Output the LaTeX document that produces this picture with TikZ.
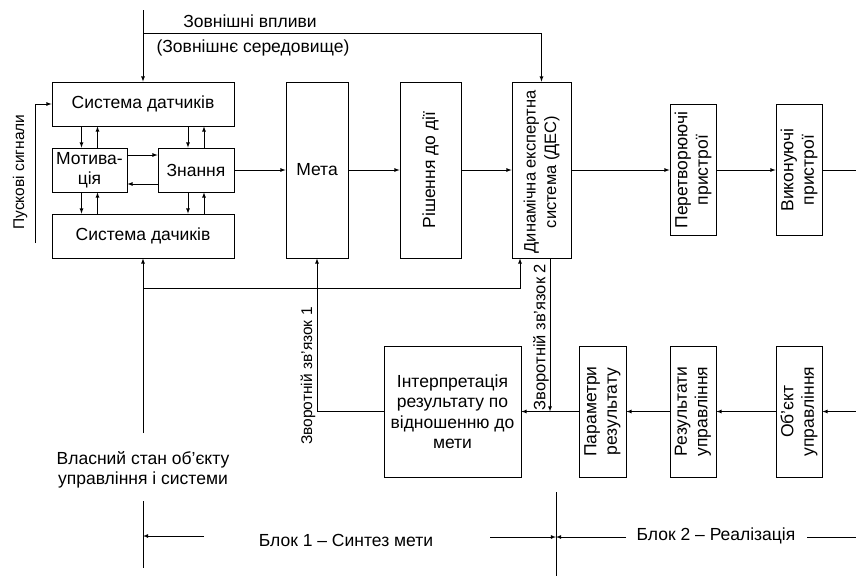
\documentclass[tikz,border=0pt]{standalone}
\usepackage{fontspec}
\setmainfont{Liberation Sans}
\usetikzlibrary{calc}

\tikzset{
  box/.style 2 args={draw,minimum width=#1pt,minimum height=#2pt,inner sep=1pt,align=center},
  vtext/.style={rotate=90,align=center,inner sep=1pt},
  small/.style={font=\fontsize{#1}{20.5}\selectfont}
}

\begin{document}
\begin{tikzpicture}[x=1pt,y=-1pt,>=latex,line width=0.8pt,
  every node/.style={font=\fontsize{17.5}{20.5}\selectfont}]
  \useasboundingbox (0,0) rectangle (856,576);

  % Block 1 - left part
  \node[box={182}{44}] (sens) at (143,104) {Система датчиків};
  \node[box={75}{44}] (motiv) at (89.5,170) {Мотива-\\ція};
  \node[box={76}{44}] (know) at (196,170) {Знання};
  \node[box={182}{44}] (sens2) at (143,236) {Система дачиків};

  % Goal, decision, DES
  \node[box={62}{176}] (meta) at (317,170) {Мета};
  \node[box={61}{176}] (dec) at (430.5,170) {};
  \node[vtext] at (dec) {Рішення до дії};
  \node[box={59}{176}] (des) at (541.5,170) {};
  \node[vtext,small=16.5] at ([yshift=-2pt]des.center) {Динамічна експертна\\система (ДЕС)};

  % Block 2 - upper row
  \node[box={46}{131}] (conv) at (693,170) {};
  \node[vtext] at (conv) {Перетворюючі\\пристрої};
  \node[box={46}{131}] (exec) at (799,170) {};
  \node[vtext] at (exec) {Виконуючі\\пристрої};

  % lower row
  \node[box={137}{131}] (interp) at (452.5,411.5) {Інтерпретація\\результату по\\відношенню до\\мети};
  \node[box={47}{131}] (param) at (602.5,411.5) {};
  \node[vtext] at (param) {Параметри\\результату};
  \node[box={46}{131}] (res) at (693,411.5) {};
  \node[vtext] at (res) {Результати\\управління};
  \node[box={46}{131}] (obj) at (799,411.5) {};
  \node[vtext] at (obj) {Об’єкт\\управління};

  % external influences
  \coordinate (extsrc) at (143,10);
  \coordinate (ext) at (des.north |- 0,33);
  \draw[->] (extsrc) -- (sens.north);
  \draw[->] (sens.north |- ext) -- (ext) -- (des.north);
  \node (extl) at (250,21) {Зовнішні впливи};
  \node (envl) at (253,48) {(Зовнішнє середовище)};

  % start signals
  \coordinate (pusk) at (35,243);
  \draw[->] (pusk) |- (sens.west);
  \node[vtext,small=15.5] (puskl) at (20,172) {Пускові сигнали};

  % inner links
  \foreach \n in {motiv,know}{
    \draw[->] ([xshift=-8pt]\n.north |- sens.south) -- ([xshift=-8pt]\n.north);
    \draw[->] ([xshift=8pt]\n.north) -- ([xshift=8pt]\n.north |- sens.south);
    \draw[->] ([xshift=-8pt]\n.south) -- ([xshift=-8pt]\n.south |- sens2.north);
    \draw[->] ([xshift=8pt]\n.south |- sens2.north) -- ([xshift=8pt]\n.south);
  }
  \draw[->] ([yshift=15pt]motiv.east) -- ([yshift=15pt]know.west);
  \draw[->] ([yshift=-14pt]know.west) -- ([yshift=-14pt]motiv.east);

  % main row
  \coordinate (outr) at (856,170);
  \draw[->] (know.east) -- (meta.west);
  \draw[->] (meta.east) -- (dec.west);
  \draw[->] (dec.east) -- (des.west);
  \draw[->] (des.east) -- (conv.west);
  \draw[->] (conv.east) -- (exec.west);
  \draw (exec.east) -- (outr);

  % own state and feedback
  \coordinate (own) at (143,433);
  \coordinate (fb) at (143,288);
  \draw[->] (own) -- (sens2.south);
  \draw[->] (fb) -- ([xshift=-21.5pt]des.south |- fb) -- ([xshift=-21.5pt]des.south);
  \node[align=center] (ownl) at (143,470) {Власний стан об’єкту\\управління і системи};

  \draw[->] (interp.west) -| (meta.south);
  \node[vtext,small=15.5] (fb1l) at (308,376) {Зворотній зв’язок 1};
  \draw[->] ([xshift=8.5pt]des.south) -- ([xshift=8.5pt]des.south |- interp.east);
  \node[vtext,small=16.5] (fb2l) at (541,337) {Зворотній зв’язок 2};

  % lower row links
  \coordinate (inr) at (856,411.5);
  \draw[->] (param.west) -- (interp.east);
  \draw[->] (res.west) -- (param.east);
  \draw[->] (obj.west) -- (res.east);
  \draw[->] (inr) -- (obj.east);

  % blocks
  \coordinate (ownb) at (143,501);
  \coordinate (ownbb) at (143,568);
  \draw (ownb) -- (ownbb);
  \coordinate (div) at (556,492);
  \coordinate (divb) at (556,576);
  \draw (div) -- (divb);
  \node (blk1) at (346,540) {Блок 1 – Синтез мети};
  \coordinate (b1l) at (204,536);
  \draw[->] (b1l) -- (b1l -| ownb);
  \coordinate (b1r) at (490,537);
  \draw[->] (b1r) -- (b1r -| div);
  \node (blk2) at (716,536) {Блок 2 – Реалізація};
  \coordinate (b2l) at (626,537);
  \draw[->] (b2l) -- (b2l -| div);
  \coordinate (b2r) at (807,537);
  \draw (b2r) -- (856,537);
\end{tikzpicture}
\end{document}
